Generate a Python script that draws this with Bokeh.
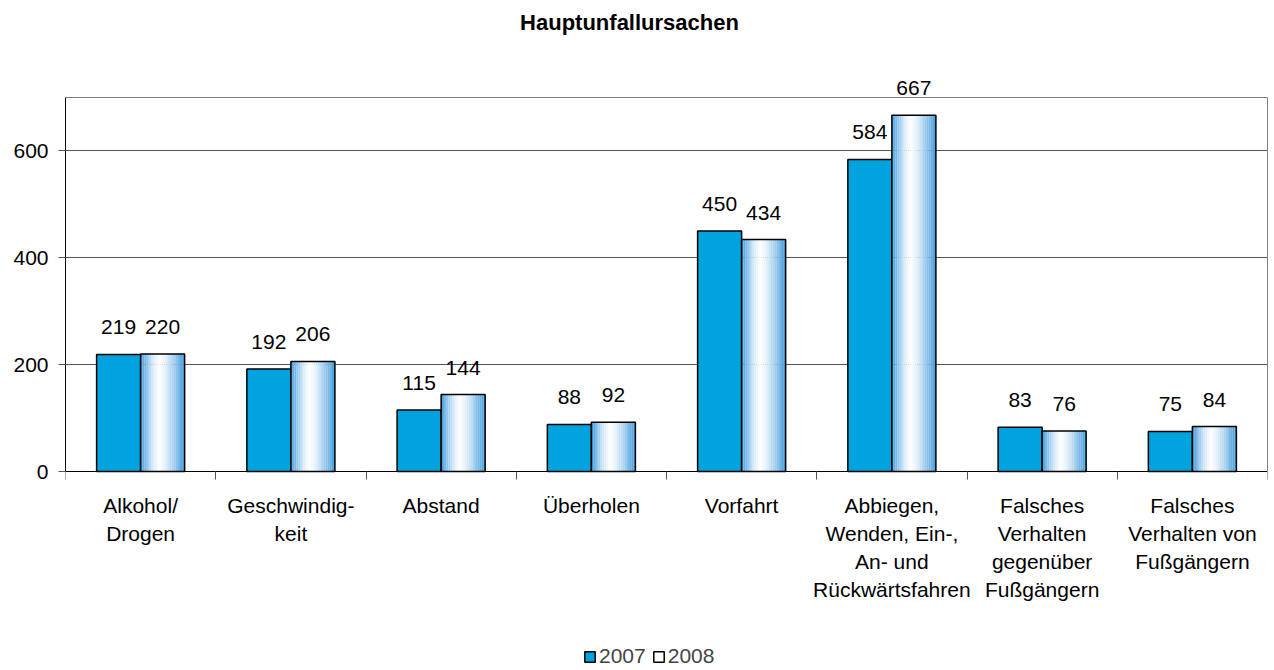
import numpy as np
from bokeh.plotting import figure
from bokeh.models import (Range1d, FixedTicker, Legend, LegendItem, ColumnDataSource,
                          LabelSet, Label, LinearAxis, Span)
from bokeh.transform import dodge
from bokeh.core.properties import value
from bokeh.embed import file_html
from bokeh.resources import INLINE

title = "Hauptunfallursachen"
categories = ["Alkohol/\nDrogen", "Geschwindig-\nkeit", "Abstand", "Überholen", "Vorfahrt",
              "Abbiegen,\nWenden, Ein-,\nAn- und\nRückwärtsfahren",
              "Falsches\nVerhalten\ngegenüber\nFußgängern",
              "Falsches\nVerhalten von\nFußgängern"]
v2007 = [219, 192, 115, 88, 450, 584, 83, 75]
v2008 = [220, 206, 144, 92, 434, 667, 76, 84]
series = ["2007", "2008"]
y_ticks = [0, 200, 400, 600]
y_max = 700

FONT = "Liberation Sans"
FS = "21px"
BAR_W = 0.293
n = len(categories)
centers = [i + 0.5 for i in range(n)]   # category slot centres on the x scale

src = ColumnDataSource(dict(x=centers, v2007=v2007, v2008=v2008,
                            x2007=[c - BAR_W / 2 for c in centers],
                            x2008=[c + BAR_W / 2 for c in centers],
                            t2007=[str(v) for v in v2007], t2008=[str(v) for v in v2008]))

# layout (pixels): the frame covers the whole height so that texts above/below
# the plotted box (title, value labels, category labels, legend) are not clipped
W, H = 1270, 670
L, R = 65, 1267          # plot box left/right
TOP_PX, ZERO_PX = 97, 471  # pixel rows of y=700 and y=0
k = (ZERO_PX - TOP_PX) / y_max
y_range = Range1d(-(H - ZERO_PX) / k, ZERO_PX / k)

p = figure(x_range=Range1d(0, n), y_range=y_range,
           width=W, height=H, output_backend="svg", toolbar_location=None,
           min_border_left=L, min_border_top=0, min_border_right=W - R, min_border_bottom=0)
p.background_fill_color = "white"
p.border_fill_color = "white"
p.outline_line_color = None

# title
p.add_layout(Label(x=629 - L, y=H - 22, x_units="screen", y_units="screen", text=title,
                   text_font=FONT, text_font_size="22px", text_font_style="bold",
                   text_align="center", text_baseline="middle", text_color="black"))

# y axis
p.yaxis.bounds = (0, y_max)
p.yaxis.ticker = FixedTicker(ticks=y_ticks)
p.yaxis.axis_line_color = "black"
p.yaxis.major_tick_line_color = "#555555"
p.yaxis.major_tick_out = 7
p.yaxis.major_tick_in = 0
p.yaxis.minor_tick_line_color = None
p.yaxis.major_label_text_font = FONT
p.yaxis.major_label_text_font_size = FS
p.yaxis.major_label_text_color = "black"
p.yaxis.major_label_standoff = 10
p.ygrid.ticker = FixedTicker(ticks=y_ticks[1:])
p.ygrid.grid_line_color = "#555555"
p.xgrid.grid_line_color = None

# right and top border of the plot box
rax = LinearAxis(bounds=(0, y_max), ticker=FixedTicker(ticks=[]), axis_line_color="#7f7f7f",
                 major_tick_line_color=None, minor_tick_line_color=None, major_label_standoff=0)
p.add_layout(rax, "right")
p.add_layout(Span(location=y_max, dimension="width", line_color="#7f7f7f", line_width=1))

# x axis at y=0: labels at slot centres, tick marks at slot boundaries
xax = p.xaxis[0]
xax.fixed_location = 0
xax.ticker = FixedTicker(ticks=centers, minor_ticks=list(range(n + 1)))
xax.major_label_overrides = {c: lab for c, lab in zip(centers, categories)}
xax.major_tick_line_color = None
xax.major_tick_out = 0
xax.major_tick_in = 0
xax.minor_tick_out = 8
xax.minor_tick_in = 0
xax.minor_tick_line_color = "#555555"
xax.axis_line_color = "black"
xax.major_label_text_font = FONT
xax.major_label_text_font_size = FS
xax.major_label_text_color = "black"
xax.major_label_text_line_height = 1.22
xax.major_label_standoff = 14

# 2007 bars
r2007 = p.vbar(x="x2007", top="v2007", width=BAR_W,
               source=src, fill_color="#00A3DD", line_color="black", line_width=1.5)

# 2008 bars: horizontal gradient built from thin strips
stops_pos = [0.0, 0.12, 0.28, 0.42, 0.55, 0.72, 0.88, 1.0]
stops_col = [(61, 154, 216), (130, 190, 236), (214, 234, 248), (255, 255, 255),
             (232, 242, 251), (176, 213, 240), (110, 178, 228), (66, 160, 220)]
N = 24
sw = BAR_W / N
for kk in range(N):
    t = (kk + 0.5) / N
    rgb = [int(round(np.interp(t, stops_pos, [c[j] for c in stops_col]))) for j in range(3)]
    col = "#%02x%02x%02x" % tuple(rgb)
    off = sw * (kk + 0.5)
    p.vbar(x=dodge("x", off), top="v2008", width=sw * 1.05,
           source=src, fill_color=col, line_color=None)
r2008 = p.vbar(x="x2008", top="v2008", width=BAR_W,
               source=src, fill_color="white", fill_alpha=0.0, line_color="black", line_width=1.5)

# value labels
for s in series:
    p.add_layout(LabelSet(x="x" + s, y="v" + s, text="t" + s, source=src,
                          text_align="center", text_baseline="alphabetic", y_offset=20,
                          text_font=value(FONT), text_font_size=value(FS), text_color="black"))

legend = Legend(items=[LegendItem(label=series[0], renderers=[r2007]),
                       LegendItem(label=series[1], renderers=[r2008])],
                location=(583 - L, 2), orientation="horizontal",
                border_line_alpha=0, background_fill_alpha=0,
                label_text_font=FONT, label_text_font_size=FS,
                glyph_width=13, glyph_height=13, spacing=6, label_standoff=3,
                padding=0, margin=0)
p.add_layout(legend, "center")

open("out.html", "w").write(file_html(p, INLINE))
